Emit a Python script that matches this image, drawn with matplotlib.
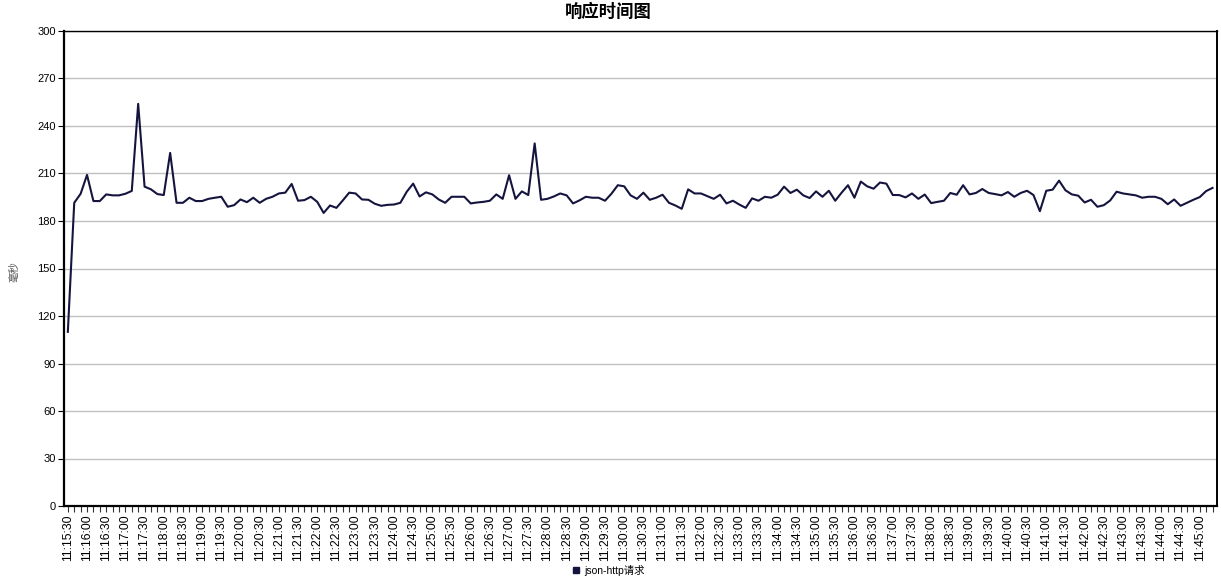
import matplotlib
matplotlib.use("Agg")
import matplotlib.pyplot as plt
from matplotlib.lines import Line2D
import datetime as dt

title = "响应时间图"
y_label = "毫秒"
series_name = "json-http请求"
start_time = "11:15:30"
step_seconds = 10
label_every = 3

values = [
    110, 191.5, 197.2, 209.1, 192.6, 192.6, 196.8, 196.2, 196.2, 197.2,
    199, 254, 201.7, 200, 197, 196.4, 223, 191.5, 191.5, 194.7,
    192.6, 192.6, 194, 194.7, 195.3, 189, 190, 193.6, 191.9, 194.7,
    191.5, 194, 195.3, 197.4, 197.9, 203.4, 192.8, 193.2, 195.3, 192.1,
    185.1, 189.8, 188.3, 193, 197.9, 197.4, 193.6, 193.4, 190.9, 189.6,
    190.2, 190.4, 191.5, 198.5, 203.6, 195.5, 198.1, 196.8, 193.6, 191.5,
    195.3, 195.3, 195.3, 191.1, 191.7, 192.1, 192.8, 196.8, 194, 208.9,
    194, 198.7, 196.4, 229, 193.4, 194, 195.5, 197.4, 196.2, 191.1,
    193, 195.3, 194.7, 194.7, 192.8, 197.2, 202.6, 201.9, 196.2, 194,
    197.9, 193.4, 194.7, 196.6, 191.5, 189.8, 187.7, 200, 197.4, 197.4,
    195.7, 194, 196.6, 191.1, 192.8, 190.4, 188.3, 194.3, 192.8, 195.3,
    194.7, 196.6, 201.7, 197.7, 199.8, 196.2, 194.5, 198.7, 195.3, 199.1,
    192.8, 197.9, 202.6, 194.7, 204.9, 201.9, 200.4, 204.3, 203.6, 196.4,
    196.4, 194.9, 197.4, 194, 196.7, 191.3, 192.1, 192.8, 197.7, 196.6,
    202.6, 196.8, 197.7, 200.2, 197.7, 197, 196.2, 198.3, 195.3, 197.7,
    199.1, 196.4, 186.2, 199.1, 199.8, 205.5, 199.4, 196.8, 196, 191.7,
    193.4, 189, 190, 193, 198.5, 197.4, 196.8, 196.2, 194.7, 195.3,
    195.3, 194, 190.6, 193.6, 189.6, 191.5, 193.4, 195.1, 198.9, 200.9,
]
y_ticks = [0, 30, 60, 90, 120, 150, 180, 210, 240, 270, 300]

t0 = dt.datetime.strptime(start_time, "%H:%M:%S")
times = [(t0 + dt.timedelta(seconds=step_seconds * i)).strftime("%H:%M:%S")
         for i in range(len(values))]
x = list(range(len(values)))

plt.rcParams['font.family'] = ['Liberation Sans', 'Noto Sans CJK SC', 'DejaVu Sans']

fig = plt.figure(figsize=(12.21, 5.8), dpi=100)
ax = fig.add_axes([64 / 1221, 1 - 506 / 580, (1217 - 64) / 1221, (506 - 31) / 580])

line_color = "#14143f"
ax.plot(x, values, color=line_color, linewidth=1.5)

ax.set_ylim(0, 300)
ax.set_xlim(-0.6, len(values) - 0.3)
ax.set_yticks(y_ticks)
ax.set_yticklabels([str(v) for v in y_ticks], fontsize=8)
ax.yaxis.grid(True, color="#c0c0c0", linewidth=1)
ax.set_axisbelow(True)

ax.set_xticks(x, minor=True)
major = x[::label_every]
ax.set_xticks(major)
ax.set_xticklabels([times[i] for i in major], rotation=90, fontsize=8.8)
ax.tick_params(axis='x', which='both', length=4, width=0.8, color="#333333", pad=2)
ax.tick_params(axis='y', length=4, width=0.8, pad=2)

for side in ["left", "bottom"]:
    ax.spines[side].set_linewidth(1.6)
ax.spines["top"].set_linewidth(1.0)
ax.spines["right"].set_linewidth(1.4)
for s in ax.spines.values():
    s.set_color("black")

fig.text(608 / 1221, 1 - 12 / 580, title, ha="center", va="center",
         fontsize=12.5, fontweight="bold", family=['Noto Sans CJK SC', 'DejaVu Sans'])
fig.text(14 / 1221, 1 - 272 / 580, y_label, ha="center", va="center", rotation=90,
         fontsize=7.5, color="#555555", family=['Noto Sans CJK SC', 'DejaVu Sans'])

handle = Line2D([], [], linestyle="none", marker="s", markersize=5, color=line_color)
leg = fig.legend([handle], [series_name], loc="center", bbox_to_anchor=(608 / 1221, 1 - 570 / 580),
                 frameon=False, handletextpad=0.3, handlelength=1,
                 prop={'family': ['Liberation Sans', 'Noto Sans CJK SC'], 'size': 7.5})

fig.savefig("out.png", dpi=100)
